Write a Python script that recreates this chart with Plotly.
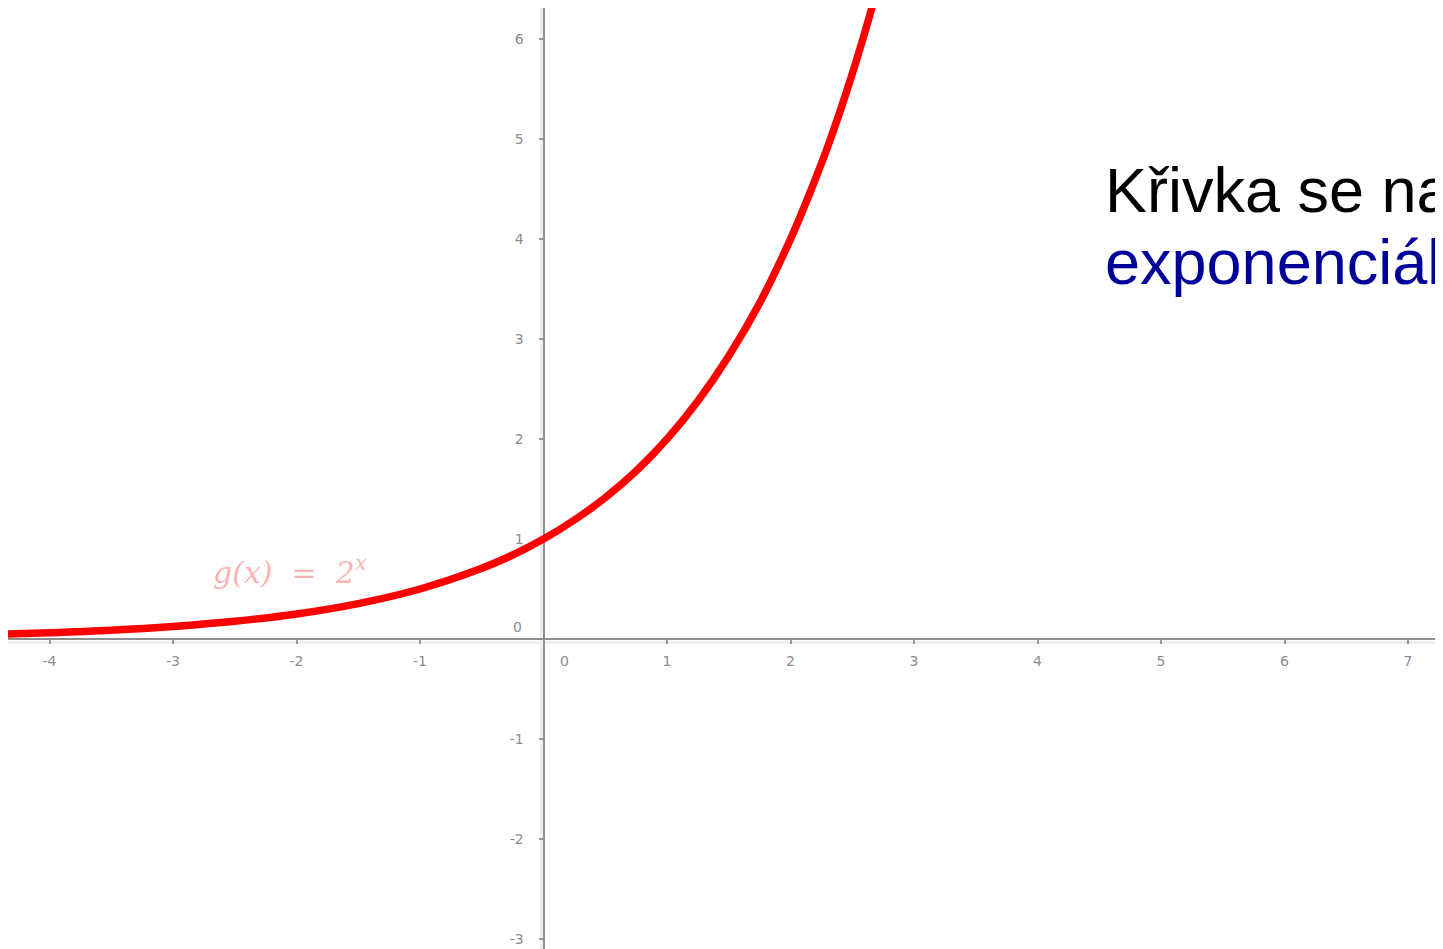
"""
plot.py - exponential curve g(x) = 2^x, GeoGebra style axes.
"""

import plotly.graph_objects as go

# Points
CURVE_X = [-4.34, -4.0, -3.5, -3.0, -2.5, -2.0, -1.5, -1.0, -0.5, -0.25, 0.0,
           0.25, 0.5, 0.75, 1.0, 1.25, 1.5, 1.75, 2.0, 2.15, 2.3, 2.45, 2.6, 2.7]
CURVE_Y = [0.05, 0.063, 0.088, 0.125, 0.177, 0.25, 0.354, 0.5, 0.707, 0.84, 1.0,
           1.19, 1.414, 1.68, 2.0, 2.38, 2.83, 3.36, 4.0, 4.44, 4.92, 5.46, 6.06, 6.5]

X_TICKS = [-4, -3, -2, -1, 1, 2, 3, 4, 5, 6, 7]
Y_TICKS = [-3, -2, -1, 1, 2, 3, 4, 5, 6]
X_TICK_TEXT = ["-4", "-3", "-2", "-1", "1", "2", "3", "4", "5", "6", "7"]
Y_TICK_TEXT = ["-3", "-2", "-1", "1", "2", "3", "4", "5", "6"]

X_RANGE = [-4.336, 7.283]
Y_RANGE = [-3.10, 6.31]

LINE_LABEL = "g(x)  =  2<sup>x</sup>"
TITLE_LINE_1 = "Křivka se nazývá"
TITLE_LINE_2 = "exponenciála"

AXIS_GREY = "#8f8f8f"
SHADOW_GREY = "#eeeeee"
TICK_FONT = dict(family="DejaVu Sans", size=14, color="#8c8c8c")

# the page adds an 8 px body margin at the left and top
W, H = 1435, 941
PAGE_OFFSET = 8

ORIGIN_PX = (0 - X_RANGE[0]) / (X_RANGE[1] - X_RANGE[0])
ORIGIN_PY = (0 - Y_RANGE[0]) / (Y_RANGE[1] - Y_RANGE[0])

fig = go.Figure()

# empty trace on the base subplot, which only carries the light axis "shadow"
fig.add_trace(go.Scatter(x=[], y=[], showlegend=False))

# the curve lives on the overlaid subplot whose axes are the real ones
fig.add_trace(
    go.Scatter(
        x=CURVE_X,
        y=CURVE_Y,
        xaxis="x2",
        yaxis="y2",
        mode="lines",
        line=dict(color="#ff0000", width=7.5, shape="spline", smoothing=1.0),
        hoverinfo="skip",
        showlegend=False,
    )
)

# curve label
fig.add_annotation(
    x=-2.05, y=0.69, xref="x2", yref="y2",
    text=LINE_LABEL, showarrow=False,
    font=dict(family="DejaVu Serif", size=30, color="rgba(255,80,80,0.45)",
              style="italic"),
)

# "0" labels next to the origin
fig.add_annotation(x=0, y=0, xref="x2", yref="y2", text="0", showarrow=False,
                   xshift=21, yshift=-22, font=TICK_FONT)
fig.add_annotation(x=0, y=0, xref="x2", yref="y2", text="0", showarrow=False,
                   xshift=-26, yshift=12, font=TICK_FONT)

# title text at the right, cut by the page edge
fig.add_annotation(
    x=(1103 - PAGE_OFFSET) / W, y=1 - (190 - PAGE_OFFSET) / H,
    xref="paper", yref="paper",
    xanchor="left", yanchor="middle", showarrow=False,
    text=TITLE_LINE_1,
    font=dict(family="Liberation Sans, Arial", size=63, color="#000000"),
)
fig.add_annotation(
    x=(1103 - PAGE_OFFSET) / W, y=1 - (262 - PAGE_OFFSET) / H,
    xref="paper", yref="paper",
    xanchor="left", yanchor="middle", showarrow=False,
    text=TITLE_LINE_2,
    font=dict(family="Liberation Sans, Arial", size=63, color="#000099"),
)

axis_style = dict(
    domain=[0, 1],
    anchor="free",
    showgrid=False,
    zeroline=False,
    showline=True,
    linecolor=AXIS_GREY,
    linewidth=2,
    layer="below traces",
    ticks="outside",
    ticklen=4,
    tickwidth=2,
    tickcolor="#999999",
    tickfont=TICK_FONT,
    fixedrange=True,
)
shadow_style = dict(
    domain=[0, 1],
    anchor="free",
    showgrid=False,
    zeroline=False,
    showline=True,
    linecolor=SHADOW_GREY,
    linewidth=3,
    layer="below traces",
    showticklabels=False,
    ticks="",
    fixedrange=True,
)

fig.update_layout(
    width=W,
    height=H,
    margin=dict(l=0, r=0, t=0, b=0),
    plot_bgcolor="white",
    paper_bgcolor="white",
    showlegend=False,
    xaxis=dict(
        shadow_style,
        range=X_RANGE,
        position=ORIGIN_PY - 3 / H,
    ),
    yaxis=dict(
        shadow_style,
        range=Y_RANGE,
        position=ORIGIN_PX - 3 / W,
    ),
    xaxis2=dict(
        axis_style,
        range=X_RANGE,
        overlaying="x",
        position=ORIGIN_PY,
        tickvals=X_TICKS,
        ticktext=X_TICK_TEXT,
        ticklabelstandoff=5,
    ),
    yaxis2=dict(
        axis_style,
        range=Y_RANGE,
        overlaying="y",
        position=ORIGIN_PX,
        tickvals=Y_TICKS,
        ticktext=Y_TICK_TEXT,
        ticklabelstandoff=12,
    ),
)

fig.write_html("out.html")
